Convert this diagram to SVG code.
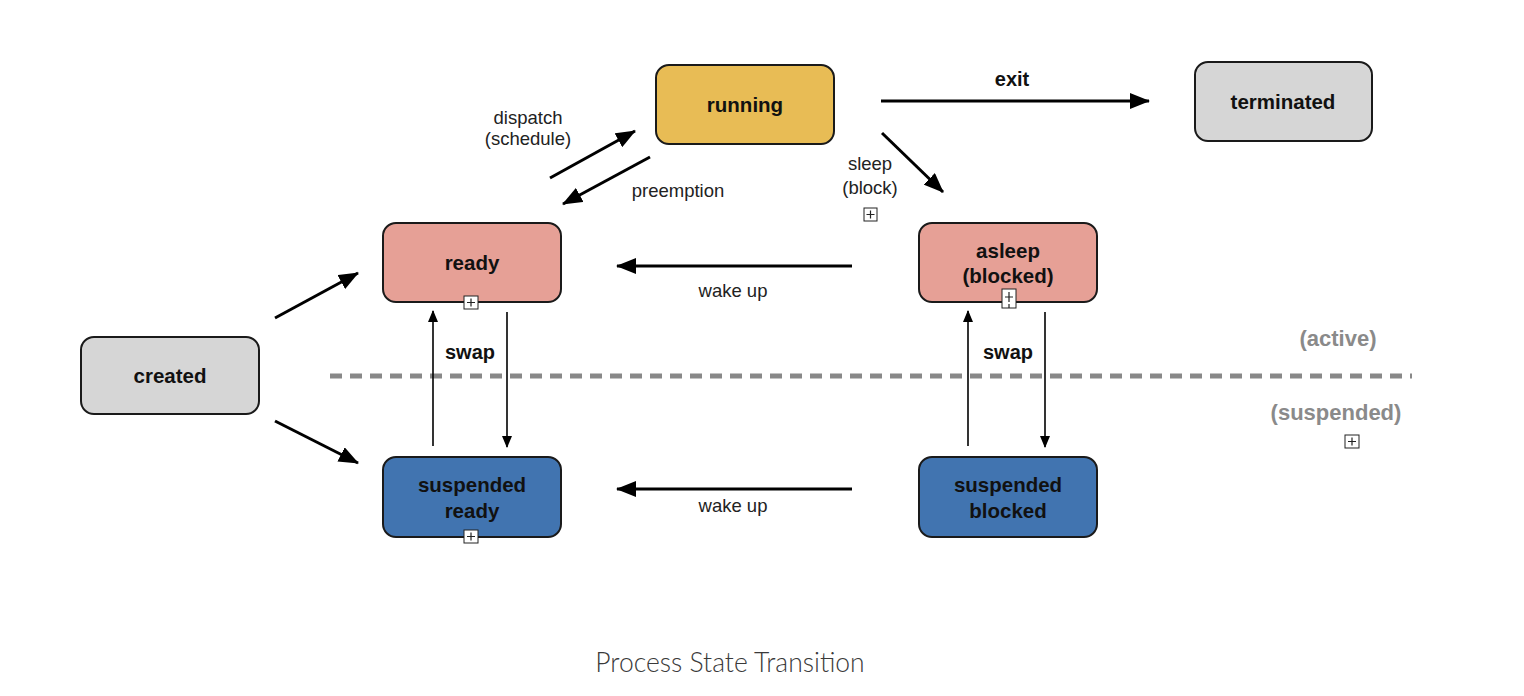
<svg xmlns="http://www.w3.org/2000/svg" width="1524" height="696" viewBox="0 0 1524 696">
<style>
.node{stroke:#1a1a1a;stroke-width:2}
.nt{font-family:"Liberation Sans",Arial,sans-serif;font-weight:bold;font-size:20.5px;fill:#111;text-anchor:middle}
.lbl{font-family:"Liberation Sans",Arial,sans-serif;font-size:18.5px;fill:#222;text-anchor:middle}
.lb{font-family:"Liberation Sans",Arial,sans-serif;font-weight:bold;font-size:20px;fill:#111;text-anchor:middle}
.gl{font-family:"Liberation Sans",Arial,sans-serif;font-weight:bold;font-size:22px;fill:#8a8a8a;text-anchor:middle}
.thin{stroke:#000;stroke-width:1.6;fill:none;marker-end:url(#as)}
.thick{stroke:#000;stroke-width:3;fill:none;marker-end:url(#ahb)}
.ico{fill:#fff;stroke:#222;stroke-width:1}
</style>
<defs>
<marker id="as" markerWidth="12" markerHeight="10" refX="11" refY="5" orient="auto" markerUnits="userSpaceOnUse" viewBox="0 0 12 10">
<path d="M0,0 L12,5 L0,10 z" fill="#000"/>
</marker>
<marker id="ahb" markerWidth="20" markerHeight="16" refX="19" refY="8" orient="auto" markerUnits="userSpaceOnUse" viewBox="0 0 20 16">
<path d="M0,0 L20,8 L0,16 z" fill="#000"/>
</marker>
</defs>
<rect width="1524" height="696" fill="#fff"/>

<line x1="330" y1="376" x2="1412" y2="376" stroke="#888" stroke-width="5" stroke-dasharray="12 8"/>

<g id="connectors">
<line x1="275" y1="318" x2="358" y2="273" class="thick"/>
<line x1="275" y1="421" x2="358" y2="463" class="thick"/>
<line x1="550" y1="178" x2="635" y2="131" class="thick"/>
<line x1="650" y1="157" x2="563" y2="204" class="thick"/>
<line x1="881" y1="101" x2="1149" y2="101" class="thick"/>
<line x1="882" y1="133" x2="943" y2="192" class="thick"/>
<line x1="852" y1="266" x2="617" y2="266" class="thick"/>
<line x1="852" y1="489" x2="617" y2="489" class="thick"/>
<line x1="433" y1="446" x2="433" y2="311" class="thin"/>
<line x1="507" y1="312" x2="507" y2="447" class="thin"/>
<line x1="968" y1="446" x2="968" y2="311" class="thin"/>
<line x1="1045" y1="312" x2="1045" y2="447" class="thin"/>
<text x="528" y="124" class="lbl">dispatch</text>
<text x="528" y="145" class="lbl">(schedule)</text>
<text x="678" y="197" class="lbl">preemption</text>
<text x="1012" y="86" class="lb">exit</text>
<text x="870" y="170" class="lbl">sleep</text>
<text x="870" y="194" class="lbl">(block)</text>
<text x="733" y="297" class="lbl">wake up</text>
<text x="733" y="512" class="lbl">wake up</text>
<text x="470" y="359" class="lb">swap</text>
<text x="1008" y="359" class="lb">swap</text>
<g><rect x="864" y="208" width="13" height="13" class="ico"/><path d="M866.5,214.5h8M870.5,210.5v8" stroke="#222" stroke-width="1.2"/></g>
</g>

<g id="running">
<rect x="656" y="65" width="178" height="79" rx="13" fill="#E8BC55" class="node"/>
<text x="745" y="112" class="nt">running</text>
</g>
<g id="terminated">
<rect x="1195" y="62" width="177" height="79" rx="13" fill="#D6D6D6" class="node"/>
<text x="1283" y="109" class="nt">terminated</text>
</g>
<g id="ready">
<rect x="383" y="223" width="178" height="79" rx="13" fill="#E6A096" class="node"/>
<text x="472" y="270" class="nt">ready</text>
<rect x="464" y="296" width="14" height="13" class="ico"/><path d="M467,302.5h8M471,298.5v8" stroke="#222" stroke-width="1.2"/>
</g>
<g id="asleep">
<rect x="919" y="223" width="178" height="79" rx="13" fill="#E6A096" class="node"/>
<text x="1008" y="258" class="nt">asleep</text>
<text x="1008" y="283" class="nt">(blocked)</text>
<rect x="1002" y="289" width="14" height="19" class="ico"/><path d="M1005,297h8M1009,292v10M1009,304v4" stroke="#222" stroke-width="1.2"/>
</g>
<g id="created">
<rect x="81" y="337" width="178" height="77" rx="13" fill="#D6D6D6" class="node"/>
<text x="170" y="383" class="nt">created</text>
</g>
<g id="suspended-ready">
<rect x="383" y="457" width="178" height="80" rx="13" fill="#4174B0" class="node"/>
<text x="472" y="492" class="nt">suspended</text>
<text x="472" y="518" class="nt">ready</text>
<rect x="464" y="530" width="14" height="13" class="ico"/><path d="M467,536.5h8M471,532.5v8" stroke="#222" stroke-width="1.2"/>
</g>
<g id="suspended-blocked">
<rect x="919" y="457" width="178" height="80" rx="13" fill="#4174B0" class="node"/>
<text x="1008" y="492" class="nt">suspended</text>
<text x="1008" y="518" class="nt">blocked</text>
</g>

<text x="1338" y="346" class="gl">(active)</text>
<text x="1336" y="420" class="gl">(suspended)</text>
<rect x="1345" y="435" width="14" height="13" class="ico"/><path d="M1348,441.5h8M1352,437.5v8" stroke="#222" stroke-width="1.2"/>

<text x="730" y="672" font-family="Lato,'Open Sans',sans-serif" font-weight="300" font-size="26.5" fill="#3a3a3a" text-anchor="middle">Process State Transition</text>
</svg>
